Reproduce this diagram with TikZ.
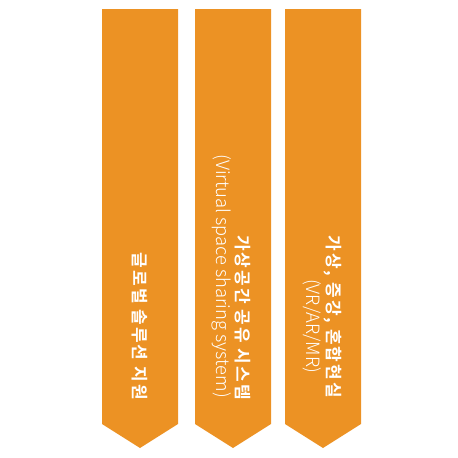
\documentclass[tikz,border=0pt]{standalone}
\usepackage{fontspec}
\newfontfamily\kr{Noto Sans CJK KR Light}
\newfontfamily\krb{Noto Sans CJK KR Bold}[LetterSpace=12]
\definecolor{bannerorange}{RGB}{236,146,36}
\begin{document}
\begin{tikzpicture}[x=1pt,y=-1pt,
  banner/.style={fill=bannerorange,draw=none},
  kortext/.style={text=white,rotate=-90,inner sep=0pt,font=\krb\fontsize{17}{20}\selectfont},
  engtext/.style={text=white,rotate=-90,inner sep=0pt,font=\kr\fontsize{18.3}{20}\selectfont}]
\useasboundingbox (0,0) rectangle (458,458);
\fill[banner] (102,9) -- (178,9) -- (178,424) -- (140,448) -- (102,424) -- cycle;
\fill[banner] (195,9) -- (271,9) -- (271,424) -- (233,448) -- (195,424) -- cycle;
\fill[banner] (285,9) -- (361,9) -- (361,424) -- (323,448) -- (285,424) -- cycle;
\node[kortext,anchor=east] (t1) at (140,400) {글로벌 솔루션 지원};
\node[kortext,anchor=east] (t2a) at (243,400) {가상공간 공유 시스템};
\node[engtext,anchor=east] (t2b) at (222,398) {(Virtual space sharing system)};
\node[kortext,anchor=east] (t3a) at (333,398) {가상, 증강, 혼합현실};
\node[engtext] (t3b) at (312,326) {(VR/AR/MR)};
\end{tikzpicture}
\end{document}
